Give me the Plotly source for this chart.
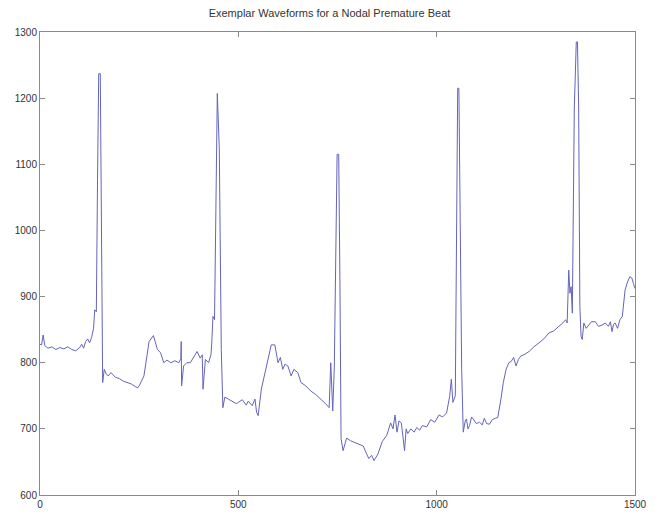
import plotly.graph_objects as go

title_text = "Exemplar Waveforms for a Nodal Premature Beat"

x_vals = [0, 4, 8, 12, 20, 30, 40, 50, 60, 70, 80, 90, 100, 105, 110, 115, 120, 125, 130, 135, 138, 142,
          145, 148, 152, 154, 158, 162, 167, 172, 179, 190, 200, 210, 220, 230, 240, 246, 250,
          262, 275, 286, 296, 304, 312, 320, 330, 340, 350, 355, 356, 357, 362, 370, 379, 388, 396,
          404, 409, 411, 417, 425, 431, 433, 436, 440, 444, 447, 452, 457, 461,
          466, 475, 485, 495, 500, 510, 520, 525, 535, 542, 546, 550, 558, 571, 583, 592, 600,
          606, 612, 618, 625, 633, 640, 650, 658, 670, 683, 695, 708, 720, 729, 733, 738, 742,
          749, 753, 756, 759, 764, 773, 783, 794, 805, 815, 822, 829, 836, 842, 852, 863, 874,
          884, 890, 895, 900, 905, 911, 915, 919, 923, 927, 935, 943, 950, 957, 964, 975, 985,
          995, 1006, 1015, 1025, 1033, 1037, 1041, 1047, 1050, 1053, 1056, 1059, 1063, 1067,
          1072, 1075, 1079, 1083, 1088, 1092, 1100, 1108, 1115, 1120, 1126, 1133, 1140, 1148,
          1154, 1162, 1168, 1175, 1182, 1188, 1194, 1200, 1206, 1212, 1220, 1233, 1245, 1258,
          1270, 1283, 1295, 1308, 1318, 1325, 1329, 1333, 1336, 1339, 1342, 1347, 1352, 1355,
          1358, 1361, 1364, 1367, 1371, 1377, 1383, 1390, 1400, 1408, 1417, 1425, 1433, 1438,
          1442, 1446, 1450, 1456, 1462, 1468, 1475, 1481, 1487, 1492, 1496, 1500]

y_vals = [828, 827, 842, 826, 822, 824, 820, 823, 821, 824, 820, 818, 823, 828, 822, 832, 836, 830, 838, 852, 880, 877,
          1075, 1237, 1237, 1045, 770, 790, 783, 780, 785, 778, 776, 772, 770, 768, 764, 762, 765,
          780, 832, 841, 820, 815, 800, 804, 800, 803, 800, 806, 832, 765, 795, 800, 800, 808, 817,
          807, 812, 760, 805, 800, 812, 830, 870, 865, 1125, 1207, 1125, 820, 732,
          748, 745, 742, 738, 740, 744, 736, 742, 735, 745, 725, 720, 760, 795, 827, 827, 800,
          808, 790, 798, 795, 780, 790, 785, 770, 765, 757, 752, 745, 738, 732, 800, 727, 795,
          1115, 1115, 930, 685, 667, 686, 682, 679, 676, 674, 664, 655, 660, 652, 662, 681, 690,
          709, 700, 721, 695, 712, 709, 692, 667, 700, 693, 700, 695, 702, 698, 705, 703, 714,
          710, 721, 718, 724, 750, 775, 740, 750, 990, 1215, 1215, 990, 790, 695,
          712, 715, 700, 705, 718, 715, 708, 710, 706, 716, 708, 707, 714, 716,
          717, 745, 770, 790, 800, 802, 808, 795, 805, 810, 812, 817, 824, 830,
          836, 845, 848, 855, 860, 865, 860, 940, 905, 915, 875, 1185, 1285, 1285,
          1185, 885, 840, 835, 860, 852, 857, 862, 862, 855, 857, 860, 855, 862,
          847, 858, 860, 852, 865, 870, 910, 922, 930, 928, 920, 912]

fig = go.Figure()
fig.add_trace(go.Scatter(
    x=x_vals, y=y_vals, mode="lines",
    line=dict(color="#6464bc", width=1),
    showlegend=False, hoverinfo="skip",
))

axis_common = dict(
    showgrid=False, zeroline=False, showline=True, mirror="allticks",
    linecolor="#8a8a8a", linewidth=1, ticks="inside", ticklen=5,
    tickcolor="#8a8a8a", tickfont=dict(family="Liberation Sans, Arial, sans-serif", size=10, color="#333333"),
)

fig.update_layout(
    width=659, height=522,
    margin=dict(l=40, r=18, t=32, b=22),
    paper_bgcolor="white", plot_bgcolor="white",
    title=dict(text=title_text, x=0.5, xanchor="center", y=0.975, yanchor="middle",
               font=dict(family="Liberation Sans, Arial, sans-serif", size=11, color="#333333")),
    xaxis=dict(range=[0, 1500], tickvals=[0, 500, 1000, 1500], **axis_common),
    yaxis=dict(range=[600, 1300], tickvals=[600, 700, 800, 900, 1000, 1100, 1200, 1300], **axis_common),
)

fig.write_html("out.html")
